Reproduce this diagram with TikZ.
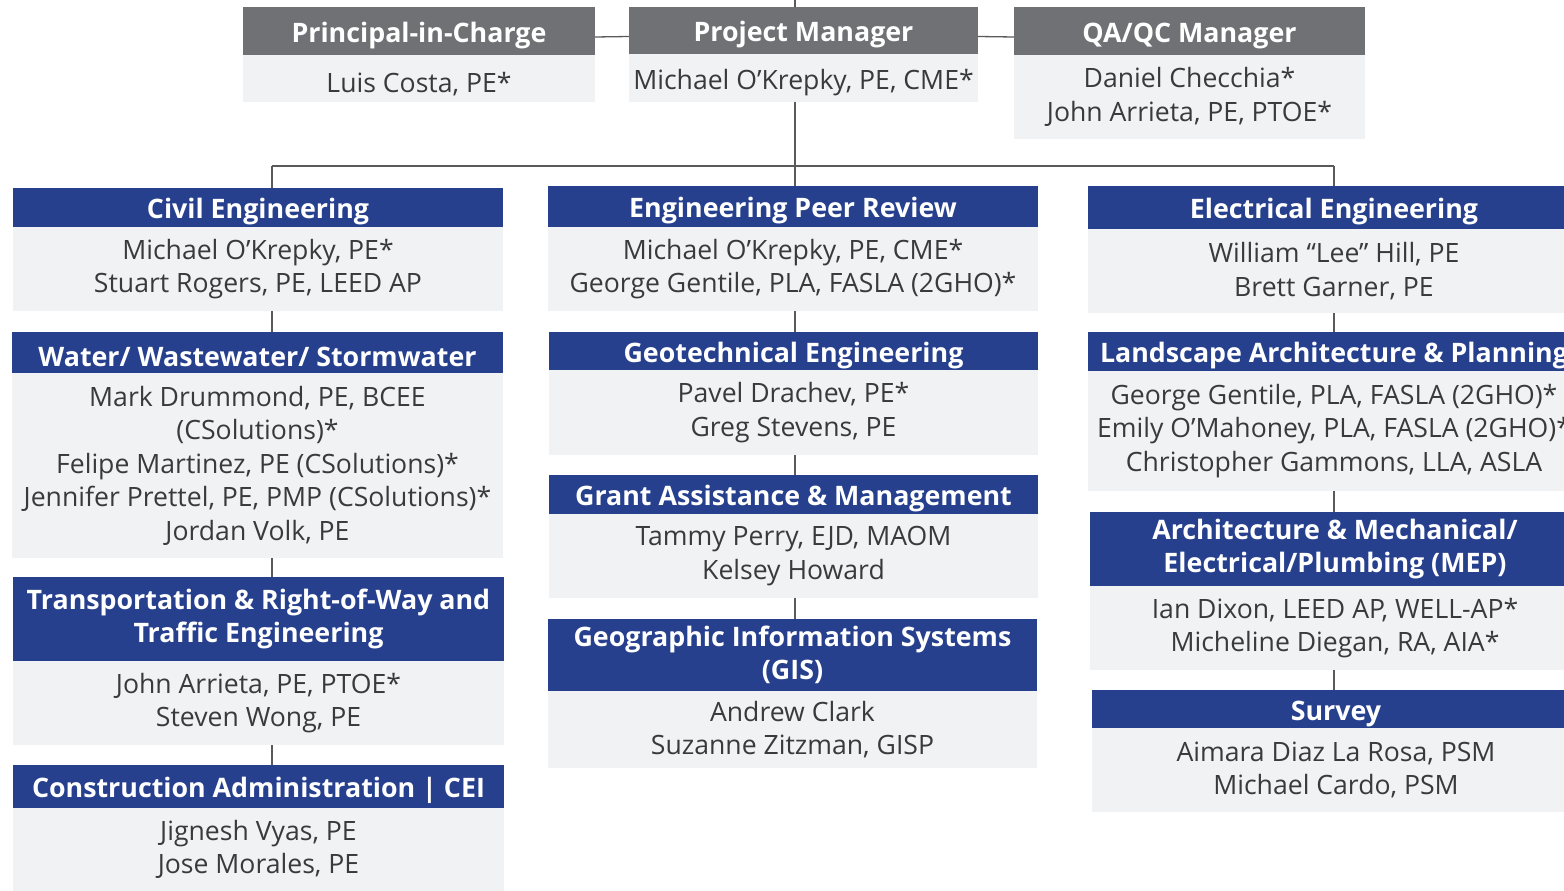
\documentclass[tikz,border=0pt]{standalone}
\usepackage{fontspec}
\setmainfont{Open Sans}
\definecolor{navy}{RGB}{38,64,142}
\definecolor{hgray}{RGB}{112,113,117}
\definecolor{bodybg}{RGB}{241,242,244}
\definecolor{txt}{RGB}{58,58,58}
\definecolor{lin}{RGB}{90,90,90}
\begin{document}
\begin{tikzpicture}[x=1pt,y=-1pt,
  box/.style={anchor=north west, inner sep=0pt, outer sep=0pt, align=center},
  hdr/.style={box, fill=navy, text=white, font=\fontsize{26.8}{33}\selectfont\bfseries,
    execute at begin node={\rule{0pt}{28.5pt}}},
  ghdr/.style={hdr, fill=hgray},
  bod/.style={box, fill=bodybg, text=txt, font=\fontsize{26.6}{33.5}\selectfont},
  conn/.style={draw=lin, line width=1.3pt}]
\useasboundingbox (0,0) rectangle (1564,891);
\clip (0,0) rectangle (1564,891);

% top row
\node[ghdr, minimum width=352pt, minimum height=48pt] (picH) at (243,7) {Principal-in-Charge};
\node[bod, minimum width=352pt, minimum height=47pt, execute at begin node={\rule{0pt}{32pt}}] (picB) at (243,55) {Luis Costa, PE*};
\node[ghdr, minimum width=349pt, minimum height=47pt] (pmH) at (629,7) {Project Manager};
\node[bod, minimum width=349pt, minimum height=48pt, execute at begin node={\rule{0pt}{28.5pt}}] (pmB) at (629,54) {Michael O’Krepky, PE, CME*};
\node[ghdr, minimum width=351pt, minimum height=48pt] (qaH) at (1014,7) {QA/QC Manager};
\node[bod, minimum width=351pt, minimum height=84pt] (qaB) at (1014,55) {Daniel Checchia*\\John Arrieta, PE, PTOE*};

% left column
\node[hdr, minimum width=490pt, minimum height=39pt] (civH) at (13,188) {Civil Engineering};
\node[bod, minimum width=490pt, minimum height=84pt] (civB) at (13,227) {Michael O’Krepky, PE*\\Stuart Rogers, PE, LEED AP};
\node[hdr, minimum width=491pt, minimum height=41pt] (watH) at (12,332) {Water/ Wastewater/ Stormwater};
\node[bod, minimum width=491pt, minimum height=185pt] (watB) at (12,373) {Mark Drummond, PE, BCEE\\(CSolutions)*\\Felipe Martinez, PE (CSolutions)*\\Jennifer Prettel, PE, PMP (CSolutions)*\\Jordan Volk, PE};
\node[hdr, minimum width=491pt, minimum height=84pt] (traH) at (13,577) {Transportation \& Right-of-Way and\\Traffic Engineering};
\node[bod, minimum width=491pt, minimum height=84pt] (traB) at (13,661) {John Arrieta, PE, PTOE*\\Steven Wong, PE};
\node[hdr, minimum width=491pt, minimum height=43pt] (conH) at (13,765) {Construction Administration | CEI};
\node[bod, minimum width=491pt, minimum height=83pt, execute at begin node={\rule{0pt}{23pt}}] (conB) at (13,808) {Jignesh Vyas, PE\\Jose Morales, PE};

% middle column
\node[hdr, minimum width=490pt, minimum height=41pt] (eprH) at (548,186) {Engineering Peer Review};
\node[bod, minimum width=490pt, minimum height=84pt] (eprB) at (548,227) {Michael O’Krepky, PE, CME*\\George Gentile, PLA, FASLA (2GHO)*};
\node[hdr, minimum width=489pt, minimum height=38pt] (geoH) at (549,332) {Geotechnical Engineering};
\node[bod, minimum width=489pt, minimum height=85pt] (geoB) at (549,370) {Pavel Drachev, PE*\\Greg Stevens, PE};
\node[hdr, minimum width=489pt, minimum height=39pt] (graH) at (549,475) {Grant Assistance \& Management};
\node[bod, minimum width=489pt, minimum height=84pt] (graB) at (549,514) {Tammy Perry, EJD, MAOM\\Kelsey Howard};
\node[hdr, minimum width=489pt, minimum height=72pt] (gisH) at (548,619) {Geographic Information Systems\\(GIS)};
\node[bod, minimum width=489pt, minimum height=77pt, execute at begin node={\rule{0pt}{26pt}}] (gisB) at (548,691) {Andrew Clark\\Suzanne Zitzman, GISP};

% right column
\node[hdr, minimum width=492pt, minimum height=43pt] (eleH) at (1088,186) {Electrical Engineering};
\node[bod, minimum width=492pt, minimum height=84pt] (eleB) at (1088,229) {William “Lee” Hill, PE\\Brett Garner, PE};
\node[hdr, minimum width=492pt, minimum height=39pt] (lanH) at (1088,332) {Landscape Architecture \& Planning};
\node[bod, minimum width=492pt, minimum height=120pt] (lanB) at (1088,371) {George Gentile, PLA, FASLA (2GHO)*\\Emily O’Mahoney, PLA, FASLA (2GHO)*\\Christopher Gammons, LLA, ASLA};
\node[hdr, minimum width=490pt, minimum height=74pt] (arcH) at (1090,512) {Architecture \& Mechanical/\\Electrical/Plumbing (MEP)};
\node[bod, minimum width=490pt, minimum height=84pt] (arcB) at (1090,586) {Ian Dixon, LEED AP, WELL-AP*\\Micheline Diegan, RA, AIA*};
\node[hdr, minimum width=488pt, minimum height=38pt] (surH) at (1092,690) {Survey};
\node[bod, minimum width=488pt, minimum height=84pt] (surB) at (1092,728) {Aimara Diaz La Rosa, PSM\\Michael Cardo, PSM};

% connectors
\coordinate (top) at (795,0);
\coordinate (jc) at (795,166);
\coordinate (jl) at (272,166);
\coordinate (jr) at (1334,166);
\draw[conn] (top) -- (top |- pmH.north);
\draw[conn] ([yshift=-6pt]picH.east) -- ([yshift=-6pt]pmH.west);
\draw[conn] ([yshift=-6pt]pmH.east) -- ([yshift=-6pt]qaH.west);
\draw[conn] (jc |- pmB.south) -- (jc |- eprH.north);
\draw[conn] (jl) -- (jr);
\draw[conn] (jl) -- (jl |- civH.north);
\draw[conn] (jr) -- (jr |- eleH.north);
\draw[conn] (jl |- civB.south) -- (jl |- watH.north);
\draw[conn] (jl |- watB.south) -- (jl |- traH.north);
\draw[conn] (jl |- traB.south) -- (jl |- conH.north);
\draw[conn] (jc |- eprB.south) -- (jc |- geoH.north);
\draw[conn] (jc |- geoB.south) -- (jc |- graH.north);
\draw[conn] (jc |- graB.south) -- (jc |- gisH.north);
\draw[conn] (jr |- eleB.south) -- (jr |- lanH.north);
\draw[conn] (jr |- lanB.south) -- (jr |- arcH.north);
\draw[conn] (jr |- arcB.south) -- (jr |- surH.north);
\end{tikzpicture}
\end{document}
